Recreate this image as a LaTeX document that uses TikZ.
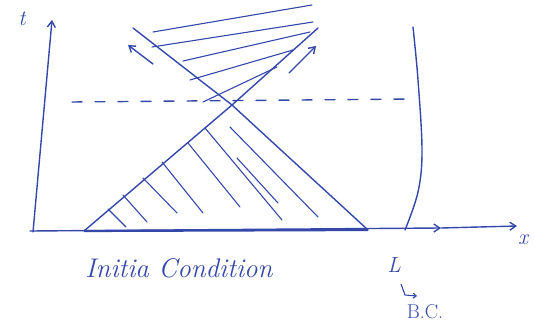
\documentclass[tikz,border=0pt]{standalone}
\usetikzlibrary{arrows.meta}
\definecolor{ink}{RGB}{52,72,170}
\begin{document}
\begin{tikzpicture}[x=1pt,y=-1pt,
  pen/.style={draw=ink,line width=1.4pt,line cap=round,line join=round},
  hatchline/.style={draw=ink,line width=1.1pt,line cap=round},
  barb/.style={-{Straight Barb[length=6pt,width=8pt]}},
  lbl/.style={text=ink,inner sep=0pt,font=\itshape}]
\useasboundingbox (0,0) rectangle (534,328);
% coordinates
\coordinate (tbot) at (33,232);
\coordinate (ttop) at (52,20);
\coordinate (xbeg) at (30,231);
\coordinate (xmid) at (441,228);
\coordinate (xend) at (517,226);
\coordinate (A) at (84,231);
\coordinate (B) at (368,230);
\coordinate (C) at (232,105);
\coordinate (P) at (318,28);
\coordinate (Q) at (133,28);
\coordinate (dl) at (72,102);
\coordinate (dr) at (414,99);
% axes
\draw[pen,barb] (tbot) -- (ttop);
\draw[pen,barb] (xbeg) -- (xmid);
\draw[pen,barb] (xmid) -- (xend);
\draw[draw=ink,line width=2.2pt] (A) -- (B);
% characteristics
\draw[pen] (A) -- (C) -- (P);
\draw[pen] (B) .. controls (330,195) and (270,140) .. (C) -- (Q);
% direction arrows
\coordinate (la1) at (153,64);
\coordinate (la2) at (128,45);
\coordinate (ra1) at (289,73);
\coordinate (ra2) at (316,46);
\draw[pen,barb] (la1) -- (la2);
\draw[pen,barb] (ra1) -- (ra2);
% dashed line
\draw[pen,dash pattern=on 10pt off 13pt] (dl) -- (dr);
% boundary wall
\draw[pen] plot[smooth,tension=0.6] coordinates {(413,27) (418,80) (422,150) (418,192) (405,230)};
% upper hatching
\foreach \a/\b in {{(153,32)}/{(312,5)}, {(152,47)}/{(313,22)}, {(183,61)}/{(310,32)}, {(190,80)}/{(293,50)}, {(203,102)}/{(277,67)}}
  \draw[hatchline] \a -- \b;
% lower hatching
\foreach \a/\b in {{(108,209)}/{(126,227)}, {(123,195)}/{(147,222)}, {(143,178)}/{(177,213)}, {(162,162)}/{(203,213)}, {(188,143)}/{(240,207)}, {(205,128)}/{(282,220)}, {(230,127)}/{(318,217)}, {(237,158)}/{(278,203)}}
  \draw[hatchline] \a -- \b;
% labels
\node[lbl,font=\itshape\fontsize{22}{24}\selectfont] (tl) at (22,19) {t};
\node[lbl,font=\itshape\fontsize{22}{24}\selectfont] (xl) at (523,240) {x};
\node[lbl,font=\itshape\fontsize{27}{30}\selectfont] (ic) at (179,268) {Initia Condition};
\node[lbl,font=\itshape\fontsize{22}{24}\selectfont] (L) at (394,265) {L};
\node[lbl,font=\fontsize{20}{22}\selectfont] (bc) at (425,312) {B.C.};
\coordinate (h1) at (401,284);
\coordinate (h2) at (405,295);
\coordinate (h3) at (417,296);
\draw[draw=ink,line width=1.1pt,-{Straight Barb[length=3pt,width=5pt]}] (h1) -- (h2) -- (h3);
\end{tikzpicture}
\end{document}
